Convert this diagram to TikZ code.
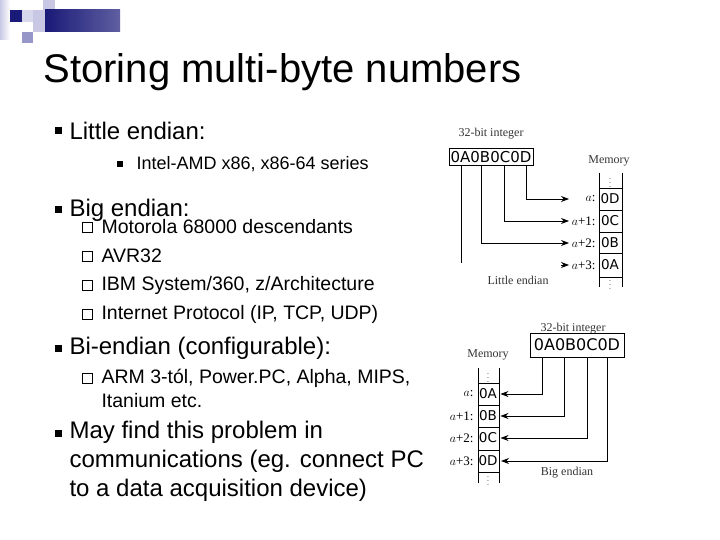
\documentclass[tikz,border=0pt]{standalone}
\usepackage{fontspec}
\setmainfont{Liberation Sans}
\newfontfamily\serif{Liberation Serif}
\newfontfamily\dv{DejaVu Sans}
\usetikzlibrary{arrows.meta}
\definecolor{navy}{RGB}{26,26,120}
\definecolor{lav}{RGB}{200,200,228}
\definecolor{lav2}{RGB}{150,150,200}
\tikzset{
  bigbul/.style={fill=black,minimum size=7pt,inner sep=0pt},
  smallbul/.style={fill=black,minimum size=6pt,inner sep=0pt},
  hollow/.style={draw=black,line width=0.6pt,minimum size=10pt,inner sep=0pt},
  lvl1/.style={anchor=west,font=\fontsize{24}{29}\selectfont,align=left},
  lvl2/.style={anchor=west,font=\fontsize{19.5}{24}\selectfont,align=left},
  word/.style={draw,line width=0.7pt,font=\dv\fontsize{15}{15}\selectfont,minimum width=84pt,minimum height=17pt,inner sep=0pt},
  caption/.style={font=\serif\fontsize{12}{12}\selectfont,text=black!80},
  cell/.style={font=\dv\fontsize{13.5}{13.5}\selectfont},
  dots/.style={font=\fontsize{7}{7}\selectfont,inner sep=0pt},
  addr/.style={anchor=east,font=\serif\fontsize{13}{13}\selectfont},
  arr/.style={-{Stealth[length=8pt,width=6pt]},line width=0.8pt},
  wire/.style={line width=0.8pt}
}
\begin{document}
\begin{tikzpicture}[x=1pt,y=-1pt]
\useasboundingbox (0,0) rectangle (720,540);
% corner decoration
\fill[left color=lav,right color=white] (0,0) rectangle (10,40);
\fill[navy] (10,10) rectangle (22,22);
\fill[lav!70] (22,10) rectangle (33,22);
\fill[lav] (33,10) rectangle (45,22);
\fill[lav] (43,0) rectangle (55,10);
\fill[lav] (33,22) rectangle (45,32);
\fill[lav2] (22,32) rectangle (33,43);
\fill[left color=navy,right color=navy!70] (45,10) rectangle (120,32);
% title
\node[anchor=west,font=\fontsize{40}{40}\selectfont] (title) at (40,72) {Storing multi-byte numbers};
% bullets
\node[bigbul] (b1) at (58,131) {};
\node[lvl1] (t1) at (66,131) {Little endian:};
\node[smallbul] (b11) at (120,164) {};
\node[lvl2,font=\fontsize{18}{24}\selectfont] (t11) at (133,164) {Intel-AMD x86, x86-64 series};
\node[bigbul] (b2) at (58,210) {};
\node[lvl1] (t2) at (66,210) {Big endian:};
\foreach \y/\txt [count=\i] in {227/Motorola 68000 descendants,256/AVR32,285/{IBM System/360, z/Architecture},314/{Internet Protocol (IP, TCP, UDP)}}{
  \node[hollow] (h2\i) at (87,\y) {};
  \node[lvl2] (t2\i) at (98,\y) {\txt};
}
\node[bigbul] (b3) at (58,348) {};
\node[lvl1] (t3) at (66,348) {Bi-endian (configurable):};
\node[hollow] (h31) at (87,378) {};
\node[lvl2,anchor=north west] (t31) at (98,366) {ARM 3-tól, Power.PC, Alpha, MIPS,\\Itanium etc.};
\node[bigbul] (b4) at (58,433) {};
\node[lvl1,anchor=north west] (t4) at (66,418) {May find this problem in\\communications (eg. connect PC\\to a data acquisition device)};
% little endian
\node[caption] (lcap) at (491,134) {32-bit integer};
\node[word] (lw) at (491,157) {0A0B0C0D};
\node[caption] (lmem) at (609,161) {Memory};
\draw[line width=0.6pt] (599,173) -- (599,287) (622,173) -- (622,287);
\foreach \y in {188,210,232,253,277} \draw[line width=0.6pt] (599,\y) -- (622,\y);
\node[dots] at (610,180) {\vdots};
\node[dots] at (610,282) {\vdots};
\foreach \v/\a/\y [count=\i] in {0D/{$a$:}/199,0C/{$a$+1:}/221,0B/{$a$+2:}/243,0A/{$a$+3:}/265}{
  \node[cell] (lc\i) at (610,\y) {\v};
  \node[addr] (la\i) at (599,\y) {\a};
  \coordinate (lp\i) at (569,\y);
}
\draw[wire] (461,165) -- (461,263);
\draw[arr] (lw.south-|481,0) |- (lp3);
\draw[arr] (lw.south-|504,0) |- (lp2);
\draw[arr] (lw.south-|526,0) |- (lp1);
\draw[arr] (561,265) -- (lp4);
\node[caption] (lend) at (518,280) {Little endian};
% big endian
\node[caption] (bcap) at (573,329) {32-bit integer};
\node[word,minimum width=94pt,minimum height=24pt,font=\dv\fontsize{16}{16}\selectfont] (bw) at (577,345) {0A0B0C0D};
\node[caption] (bmem) at (488,355) {Memory};
\draw[line width=0.6pt] (478,368) -- (478,483) (499,368) -- (499,483);
\foreach \y in {383,405,427,450,472} \draw[line width=0.6pt] (478,\y) -- (499,\y);
\node[dots] at (488,375) {\vdots};
\node[dots] at (488,478) {\vdots};
\foreach \v/\a/\y/\x [count=\i] in {0A/{$a$:}/394/542,0B/{$a$+1:}/416/564,0C/{$a$+2:}/438/587,0D/{$a$+3:}/461/607}{
  \node[cell] (bc\i) at (488,\y) {\v};
  \node[addr] (ba\i) at (477,\y) {\a};
  \draw[arr] (bw.south-|\x,0) |- (bc\i.east);
}
\node[caption] (bend) at (567,473) {Big endian};
\end{tikzpicture}
\end{document}
